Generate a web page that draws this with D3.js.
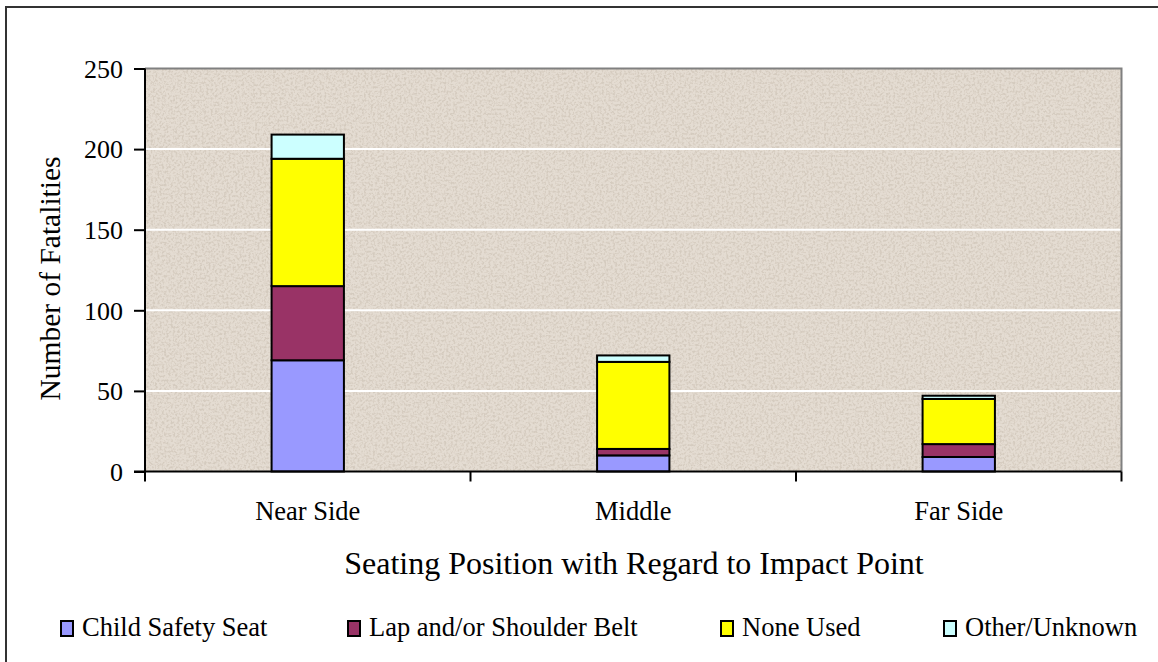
<!DOCTYPE html>
<html>
<head>
<meta charset="utf-8">
<script src="https://cdn.jsdelivr.net/npm/d3@7/dist/d3.min.js"></script>
<style>
  html, body { margin: 0; padding: 0; background: #fff; }
  svg { display: block; }
  svg text { font-family: "Liberation Serif", "DejaVu Serif", "Times New Roman", serif; fill: #000; }
</style>
</head>
<body>
<svg id="chart" width="1158" height="662"></svg>
<script>
// Fatalities by seating position and restraint use
const categories = ["Near Side", "Middle", "Far Side"];
const seriesNames = ["Child Safety Seat", "Lap and/or Shoulder Belt", "None Used", "Other/Unknown"];
const childSafetySeat = [69, 10, 9];
const lapShoulderBelt = [46, 4, 8];
const noneUsed = [79, 54, 28];
const otherUnknown = [15, 4, 2];
const yTicks = [0, 50, 100, 150, 200, 250];
const colors = ["#9999ff", "#993366", "#ffff00", "#ccffff"];

const seriesValues = [childSafetySeat, lapShoulderBelt, noneUsed, otherUnknown];
const rows = categories.map((c, i) => {
  const r = { category: c };
  seriesNames.forEach((s, k) => { r[s] = seriesValues[k][i]; });
  return r;
});

const FONT = "Liberation Serif";
const svg = d3.select("#chart");
const W = 1158, H = 662;
const margin = { left: 145, right: 1121.5, top: 68.5, bottom: 471.5 };

// outer chart frame
svg.append("rect")
  .attr("x", 6).attr("y", 7).attr("width", W + 10).attr("height", H + 10)
  .attr("fill", "#fff").attr("stroke", "#333").attr("stroke-width", 2);

// granite-like plot texture
const defs = svg.append("defs");
const f = defs.append("filter").attr("id", "grain")
  .attr("x", 0).attr("y", 0).attr("width", "100%").attr("height", "100%");
f.append("feTurbulence").attr("type", "fractalNoise")
  .attr("baseFrequency", 0.45).attr("numOctaves", 2).attr("seed", 7).attr("result", "n");
f.append("feColorMatrix").attr("in", "n").attr("type", "matrix")
  .attr("values", "0 0 0 0 0.62  0 0 0 0 0.55  0 0 0 0 0.47  0 0 0 -3.4 1.95")
  .attr("result", "dark");
f.append("feComposite").attr("in", "dark").attr("in2", "SourceGraphic").attr("operator", "in");

const x = d3.scaleBand().domain(categories)
  .range([margin.left, margin.right]).paddingInner(0).paddingOuter(0);
const y = d3.scaleLinear().domain([0, 250]).range([margin.bottom, margin.top]);

const plotW = margin.right - margin.left, plotH = margin.bottom - margin.top;
svg.append("rect")
  .attr("x", margin.left).attr("y", margin.top).attr("width", plotW).attr("height", plotH)
  .attr("fill", "#e4dcd2");
svg.append("rect")
  .attr("x", margin.left).attr("y", margin.top).attr("width", plotW).attr("height", plotH)
  .attr("fill", "#e4dcd2").attr("filter", "url(#grain)").attr("opacity", 0.7);

// gridlines
svg.append("g").selectAll("line").data(yTicks.filter(t => t > 0 && t < 250)).join("line")
  .attr("x1", margin.left).attr("x2", margin.right)
  .attr("y1", d => y(d)).attr("y2", d => y(d))
  .attr("stroke", "#fff").attr("stroke-width", 2);

// plot border (top/right)
svg.append("path")
  .attr("d", `M${margin.left},${margin.top}H${margin.right}V${margin.bottom}`)
  .attr("fill", "none").attr("stroke", "#808080").attr("stroke-width", 2);

// stacked bars
const stack = d3.stack().keys(seriesNames)(rows);
const barW = x.bandwidth() / 4.5;
svg.append("g").selectAll("g").data(stack).join("g")
  .attr("fill", (d, i) => colors[i])
  .selectAll("rect").data(d => d).join("rect")
  .attr("x", d => x(d.data.category) + (x.bandwidth() - barW) / 2)
  .attr("width", barW)
  .attr("y", d => y(d[1]))
  .attr("height", d => y(d[0]) - y(d[1]))
  .attr("stroke", "#000").attr("stroke-width", 2);

// y axis
const yAxis = svg.append("g").attr("transform", `translate(${margin.left},0)`)
  .call(d3.axisLeft(y).tickValues(yTicks).tickSize(11).tickPadding(11));
yAxis.attr("font-family", FONT).attr("font-size", 26);
yAxis.select(".domain").attr("stroke", "#000").attr("stroke-width", 2)
  .attr("d", `M0,${margin.top}V${margin.bottom}`);
yAxis.selectAll(".tick line").attr("stroke", "#000").attr("stroke-width", 2);
yAxis.selectAll(".tick text").attr("fill", "#000").attr("dy", "0.34em");

// x axis with boundary ticks
const xAxis = svg.append("g").attr("transform", `translate(0,${margin.bottom})`);
xAxis.append("line").attr("x1", margin.left - 11).attr("x2", margin.right)
  .attr("stroke", "#000").attr("stroke-width", 2);
const bounds = categories.map(c => x(c)).concat([margin.right]);
xAxis.selectAll("line.tk").data(bounds).join("line").attr("class", "tk")
  .attr("x1", d => d).attr("x2", d => d).attr("y1", 0).attr("y2", 10)
  .attr("stroke", "#000").attr("stroke-width", 2);
xAxis.selectAll("text").data(categories).join("text")
  .attr("x", d => x(d) + x.bandwidth() / 2).attr("y", 48.5)
  .attr("text-anchor", "middle").attr("font-family", FONT).attr("font-size", 26.5).text(d => d);

// axis titles
svg.append("text").attr("transform", `translate(60,278.5) rotate(-90)`)
  .attr("text-anchor", "middle").attr("font-family", FONT).attr("font-size", 29.5)
  .text("Number of Fatalities");
svg.append("text").attr("x", 634).attr("y", 574)
  .attr("text-anchor", "middle").attr("font-family", FONT).attr("font-size", 32)
  .text("Seating Position with Regard to Impact Point");

// legend
const legendX = [61, 348, 721, 944];
const lg = svg.append("g").selectAll("g").data(seriesNames).join("g")
  .attr("transform", (d, i) => `translate(${legendX[i]},621)`);
lg.append("rect").attr("width", 12).attr("height", 15)
  .attr("fill", (d, i) => colors[i]).attr("stroke", "#000").attr("stroke-width", 2);
lg.append("text").attr("x", 21).attr("y", 15).attr("font-family", FONT).attr("font-size", 26.5)
  .text(d => d);
</script>
</body>
</html>
